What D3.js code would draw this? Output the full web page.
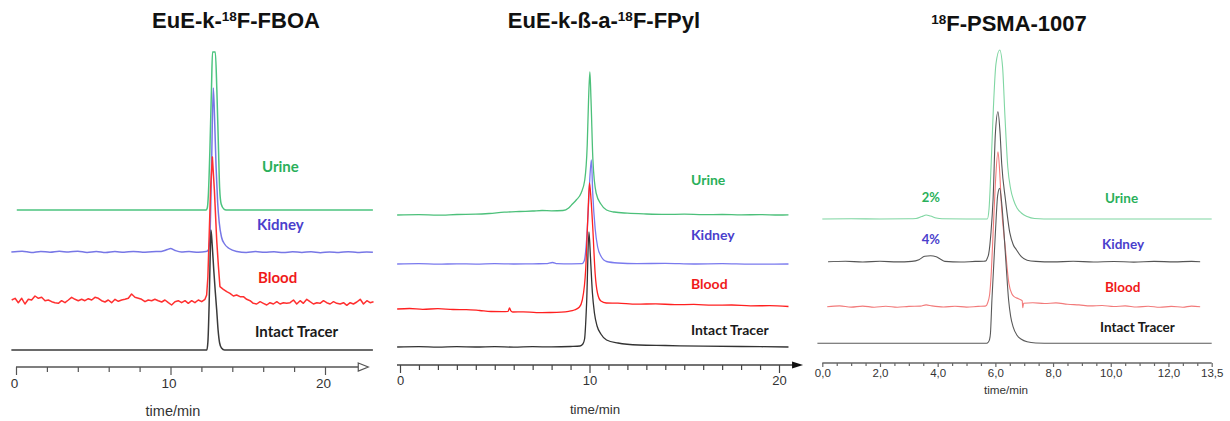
<!DOCTYPE html>
<html>
<head>
<meta charset="utf-8">
<script src="https://cdn.jsdelivr.net/npm/d3@7"></script>
<style>
  body { margin: 0; background: #fff; }
  svg { display: block; }
  .title { font-family: "Liberation Sans", Arial, sans-serif; font-weight: bold; fill: #111; }
  .trace-label { font-family: Lato, "Open Sans", sans-serif; font-weight: bold; }
  .axis text { font-family: "Liberation Sans", Arial, sans-serif; fill: #333; }
  .axis-title { font-family: "Liberation Sans", Arial, sans-serif; fill: #333; }
</style>
</head>
<body>
<svg id="chart" width="1230" height="421"></svg>
<script>
// trace names, top to bottom
const traceNames = ["Urine", "Kidney", "Blood", "Intact Tracer"];

// ---- EuE-k-18F-FBOA : [time/min, signal] ----
const fboaUrine = [[0.05,0],[12.3,0],[12.38,2],[12.45,15],[12.55,60],[12.65,120],[12.72,158],[12.9,158],[13.0,120],[13.1,65],[13.18,22],[13.28,6],[13.45,1],[13.6,0],[23.1,0]];
const fboaKidney = [[-0.3,0],[0.4,0.8],[1.0,-0.5],[1.6,0.6],[2.2,-0.3],[2.8,0.7],[3.4,0],[4.0,0.8],[4.6,-0.4],[5.2,0.5],[5.8,-0.6],[6.4,0.4],[7.0,-0.2],[7.6,0.6],[8.2,-0.3],[8.8,0.3],[9.4,0.6],[9.8,2.5],[10.0,3.5],[10.3,1.5],[10.7,0],[11.2,0.5],[11.8,-0.3],[12.3,0.4],[12.45,2],[12.55,15],[12.65,80],[12.77,164],[12.85,135],[12.95,85],[13.05,50],[13.15,30],[13.3,15],[13.5,8],[13.8,3.5],[14.3,0.5],[14.9,-0.5],[15.5,0.4],[16.1,-0.3],[16.7,0.2],[17.3,-0.6],[17.9,0.3],[18.5,-0.4],[19.1,0.2],[19.7,-0.7],[20.3,0],[20.9,-0.5],[21.5,0.3],[22.1,-0.4],[22.7,0.1],[23.1,-0.3]];
const fboaBlood = [[-0.28,2],[-0.06,3.7],[0.15,-0.7],[0.37,3.7],[0.58,-2],[0.8,2.7],[1.01,2],[1.23,6],[1.45,3.7],[1.66,4.7],[1.88,1.3],[2.09,2],[2.31,0.3],[2.52,-0.7],[2.74,-1.3],[2.95,1.3],[3.17,-0.7],[3.39,2],[3.6,4.7],[3.82,2.7],[4.03,1.3],[4.25,2.7],[4.46,1.3],[4.68,3.3],[4.9,2],[5.11,4.7],[5.33,3.7],[5.54,1.3],[5.76,0],[5.97,2],[6.19,-0.7],[6.41,2.7],[6.62,0.7],[6.84,2],[7.05,2.7],[7.27,3.7],[7.48,8],[7.7,4.7],[7.92,3.7],[8.13,2.7],[8.35,0.3],[8.56,2],[8.78,1.3],[8.99,2.7],[9.21,1.3],[9.43,0],[9.64,2],[9.86,-0.7],[10.07,-3],[10.29,0.3],[10.5,1.3],[10.72,-0.7],[10.94,1.3],[11.15,-1.3],[11.37,1.3],[11.58,-0.7],[11.8,2],[12.02,0.3],[12.23,2.7],
  [12.34,7],[12.42,25],[12.5,65],[12.6,115],[12.71,145],[12.84,112],[12.99,62],[13.1,36],[13.2,15.3],[13.42,12.7],[13.64,10.3],[13.85,8.7],[14.07,6],[14.28,7],[14.5,5.3],[14.72,5.3],[14.93,2.7],[15.15,1.3],[15.36,-1.3],[15.58,-2],[15.8,0.3],[16.01,-1.3],[16.23,-3],[16.44,-0.7],[16.66,-2],[16.88,0.3],[17.09,-2],[17.31,-0.7],[17.52,-1.3],[17.74,-0.7],[17.96,2],[18.17,-2],[18.39,1.3],[18.6,-1.3],[18.82,2.7],[19.03,0.3],[19.25,-2],[19.47,-0.7],[19.68,-1.3],[19.9,1.3],[20.11,-0.7],[20.33,-2],[20.55,0.3],[20.76,-1.3],[20.98,-2],[21.2,-0.7],[21.41,-3.3],[21.63,-0.7],[21.84,-2],[22.06,0],[22.28,2.7],[22.49,-2],[22.71,1.3],[22.92,-0.7],[23.14,0.3]];
const fboaIntact = [[-0.3,0],[12.35,0],[12.42,8],[12.5,45],[12.57,95],[12.62,120],[12.7,105],[12.8,80],[12.9,58],[12.99,40],[13.08,20],[13.18,7],[13.3,2],[13.5,0],[23.1,0]];
const fboaOffsets = [140, 98, 48, 0];
const fboaMajorTicks = [0, 10, 20];
const fboaMinorTicks = [2, 4, 6, 8, 12, 14, 16, 18];

// ---- EuE-k-ß-a-18F-FPyl ----
const fpylUrine = [[-0.15,0],[1,0.4],[2,-0.2],[3,0.5],[4,0.8],[4.7,1.5],[5.5,2.8],[6.3,3.5],[7,4],[7.5,4.5],[8,4.2],[8.6,4.5],[8.9,7],[9.1,11],[9.3,15],[9.56,22],[9.75,35],[9.88,70],[9.95,115],[10.02,143],[10.08,115],[10.18,55],[10.35,22],[10.6,11],[10.9,5],[11.3,3],[12,1.8],[13,1],[14,0.6],[15,0.8],[16,0.3],[17,0.5],[18,0.1],[19,0.4],[20,0],[20.5,0.2]];
const fpylKidney = [[-0.15,0],[1,0.3],[2,-0.2],[3,0.2],[4,-0.1],[5,0.3],[6,0],[7,0.2],[7.7,0.3],[8.05,1.5],[8.3,0.4],[9,0.2],[9.6,0.3],[9.72,3],[9.85,25],[9.95,60],[10.03,90],[10.1,104],[10.17,71],[10.3,35],[10.43,17],[10.6,8],[10.9,2.5],[11.5,1],[12.5,0.4],[14,0.6],[15.5,0],[17,0.3],[18.5,-0.2],[20.5,0]];
const fpylBlood = [[-0.15,0],[0.5,0.5],[1.2,-0.3],[2,0.3],[2.8,-0.5],[3.5,-0.6],[4.2,-1.5],[4.8,-2.5],[5.4,-2.6],[5.7,-2.4],[5.78,1],[5.85,-1.8],[5.95,-3],[6.5,-2.8],[7.2,-3.6],[7.9,-3.5],[8.5,-3.2],[8.9,-2.4],[9.2,-1],[9.47,2],[9.62,9],[9.8,40],[9.92,95],[10.0,126],[10.08,110],[10.17,82],[10.3,35],[10.42,16],[10.6,8],[10.88,6],[11.5,5.8],[12.5,4.8],[13.5,5.2],[14.5,4.3],[15.5,4.6],[16.5,3.8],[17.5,4],[18.5,3.2],[19.5,3.3],[20.5,2.5]];
const fpylIntact = [[-0.15,0],[1,0.4],[2,-0.2],[3,0.3],[4,0],[5,0.4],[6,-0.1],[7,0.3],[8,0.1],[9,0.5],[9.5,1],[9.65,3],[9.74,8],[9.85,45],[9.97,115],[10.05,90],[10.15,55],[10.26,34],[10.4,21],[10.6,13],[10.9,7],[11.5,4],[12.6,2],[14,1.5],[16,0.8],[18,0.5],[20.5,0]];
const fpylOffsets = [132, 83, 38, 0];
const fpylMajorTicks = [0, 10, 20];
const fpylMinorTicks = [1, 2, 3, 4, 5, 6, 7, 8, 9, 11, 12, 13, 14, 15, 16, 17, 18, 19];

// ---- 18F-PSMA-1007 ----
const psmaUrine = [[0,0],[1,0.2],[2,0],[3,0.2],[3.25,0.5],[3.45,2.5],[3.6,4],[3.75,3],[3.95,1],[4.15,0.2],[5,0],[5.72,0],[5.78,10],[5.85,52],[5.93,110],[6.02,155],[6.15,169],[6.25,152],[6.33,104],[6.43,52],[6.53,30],[6.63,19],[6.75,11],[6.9,6],[7.1,2.5],[7.36,0.5],[8,0],[13.5,0]];
const psmaKidney = [[0.2,0],[0.8,0.5],[1.4,-0.3],[2,0.4],[2.6,-0.2],[3.1,0.3],[3.35,2],[3.55,5.5],[3.75,6],[3.95,5],[4.1,2.5],[4.25,0.3],[4.8,-0.3],[5.3,0.3],[5.6,0.5],[5.68,1],[5.72,3.5],[5.77,8],[5.85,30],[5.92,62],[6.0,128],[6.09,150],[6.16,130],[6.22,98],[6.35,62],[6.5,29],[6.62,17],[6.73,12],[6.9,5],[7.1,1.5],[7.4,0.3],[8,-0.2],[8.7,0.4],[9.4,-0.3],[10.1,0.2],[10.8,-0.4],[11.5,0.3],[12.2,-0.2],[12.8,0.3],[13.1,0]];
const psmaBlood = [[0.17,0],[0.6,0.8],[1.0,-0.4],[1.4,0.6],[1.8,-0.5],[2.2,0.4],[2.6,-0.6],[3.0,0.3],[3.4,0.6],[3.6,1.8],[3.8,0.8],[4.2,-0.3],[4.6,0.5],[5.0,-0.4],[5.4,0.3],[5.65,0.6],[5.7,1.5],[5.72,3],[5.8,12],[5.86,35],[5.92,73],[6.0,123],[6.09,155],[6.15,135],[6.2,106],[6.35,57],[6.47,23],[6.57,13],[6.65,10],[6.8,8],[6.93,6],[6.95,-1],[6.98,3.5],[7.3,4],[7.7,3.2],[8.1,3.8],[8.5,2.5],[8.9,1.8],[9.3,0.8],[9.7,1.2],[10.1,0.2],[10.5,0.8],[10.9,-0.3],[11.3,0.5],[11.7,-0.6],[12.1,0.3],[12.5,-0.5],[12.8,0.6],[13.1,0]];
const psmaIntact = [[-0.17,0],[5.7,0],[5.75,1],[5.8,4],[5.83,10],[5.88,43],[6.0,110],[6.08,148],[6.15,155],[6.22,140],[6.3,110],[6.38,75],[6.46,43],[6.53,27],[6.61,17],[6.75,8],[6.9,4],[7.1,1.5],[7.4,0.3],[8,0],[13.5,0]];
const psmaOffsets = [124.3, 81.6, 36.6, 0];
const psmaMajorTicks = [0, 2, 4, 6, 8, 10, 12, 13.5];
const psmaMinorTicks = [0.5,1,1.5,2.5,3,3.5,4.5,5,5.5,6.5,7,7.5,8.5,9,9.5,10.5,11,11.5,12.5,13];
const psmaPercents = ["2%", "4%"];

const svg = d3.select("#chart");

const panels = [
  {
    titleParts: ["EuE-k-", "18", "F-FBOA"], titleX: 236, titleY: 28,
    traces: [fboaUrine, fboaKidney, fboaBlood, fboaIntact], offsets: fboaOffsets,
    xDomain: [0, 20], xRange: [16, 325], baseY: 350, axisY: 367,
    axisStart: 0, axisEnd: 22.8, arrow: "open",
    major: fboaMajorTicks, minor: fboaMinorTicks, majorLen: 8, minorLen: 5,
    fmt: d3.format("d"), tickFont: 13.5, tickDx: -2, axisColor: "#555",
    colors: ["#4cc47f", "#7777e6", "#ff3030", "#3a3a3a"], width: 1.5,
    curves: [d3.curveMonotoneX, d3.curveMonotoneX, d3.curveLinear, d3.curveMonotoneX],
    labelFont: 15, labels: [[262, 172], [257, 230], [258, 283], [255, 337]],
    axisTitle: [173, 416, 14.5]
  },
  {
    titleParts: ["EuE-k-ß-a-", "18", "F-FPyl"], titleX: 604, titleY: 27.5,
    traces: [fpylUrine, fpylKidney, fpylBlood, fpylIntact], offsets: fpylOffsets,
    xDomain: [0, 20], xRange: [400, 779], baseY: 347, axisY: 365,
    axisStart: -0.16, axisEnd: 21.27, arrow: "filled",
    major: fpylMajorTicks, minor: fpylMinorTicks, majorLen: 8, minorLen: 5,
    fmt: d3.format("d"), tickFont: 13, tickDx: 0, axisColor: "#444",
    colors: ["#4cc07a", "#7a7aee", "#ff2020", "#333333"], width: 1.3,
    curves: [d3.curveMonotoneX, d3.curveMonotoneX, d3.curveMonotoneX, d3.curveMonotoneX],
    labelFont: 14, labels: [[691, 185], [691, 240], [691, 289], [691, 335]],
    axisTitle: [595, 414, 13.3]
  },
  {
    titleParts: ["", "18", "F-PSMA-1007"], titleX: 1009, titleY: 30.5,
    traces: [psmaUrine, psmaKidney, psmaBlood, psmaIntact], offsets: psmaOffsets,
    xDomain: [0, 13.5], xRange: [822.3, 1211.7], baseY: 343.3, axisY: 363,
    axisStart: 0, axisEnd: 13.5, arrow: "none",
    major: psmaMajorTicks, minor: psmaMinorTicks, majorLen: 4, minorLen: 3,
    fmt: d => d3.format(".1f")(d).replace(".", ","), tickFont: 11.5, tickDx: 0, axisColor: "#666",
    colors: ["#7fd6a2", "#555555", "#f27a7a", "#5a5a5a"], width: 1.1,
    curves: [d3.curveMonotoneX, d3.curveMonotoneX, d3.curveMonotoneX, d3.curveMonotoneX],
    labelFont: 13.5, labels: [[1105, 202.7], [1102, 249], [1105, 291.7], [1100, 331.7]],
    percents: psmaPercents, percentPos: [[921.7, 201.7], [921.7, 244]],
    axisTitle: [1006, 394, 11.7]
  }
];

const labelColors = ["#2ab05a", "#4a40cc", "#f01a1a", "#1a1a1a"];

panels.forEach(p => {
  const x = d3.scaleLinear().domain(p.xDomain).range(p.xRange);
  const y = d3.scaleLinear().domain([0, 300]).range([p.baseY, p.baseY - 300]);
  const g = svg.append("g");

  // title with superscript
  const t = g.append("text").attr("class", "title")
    .attr("x", p.titleX).attr("y", p.titleY)
    .attr("text-anchor", "middle").style("font-size", "22px");
  if (p.titleParts[0]) t.append("tspan").text(p.titleParts[0]);
  t.append("tspan").text(p.titleParts[1]).attr("dy", -7).style("font-size", "13.5px");
  t.append("tspan").text(p.titleParts[2]).attr("dy", 7);

  // traces
  p.traces.forEach((tr, i) => {
    const off = p.offsets[i];
    const line = d3.line()
      .x(d => x(d[0]))
      .y(d => y(d[1] + off))
      .curve(p.curves[i]);
    g.append("path")
      .datum(tr)
      .attr("d", line)
      .attr("fill", "none")
      .attr("stroke", p.colors[i])
      .attr("stroke-width", p.width)
      .attr("stroke-linejoin", "round");
  });

  // trace labels
  traceNames.forEach((name, i) => {
    g.append("text").attr("class", "trace-label")
      .attr("x", p.labels[i][0]).attr("y", p.labels[i][1])
      .style("font-size", p.labelFont + "px")
      .attr("fill", labelColors[i])
      .text(name);
  });
  if (p.percents) {
    p.percents.forEach((s, i) => {
      g.append("text").attr("class", "trace-label")
        .attr("x", p.percentPos[i][0]).attr("y", p.percentPos[i][1])
        .style("font-size", "13px")
        .attr("fill", labelColors[i])
        .text(s);
    });
  }

  // time axis
  const axisG = g.append("g").attr("class", "axis").attr("transform", `translate(0,${p.axisY})`);
  axisG.append("g").call(d3.axisBottom(x).tickValues(p.minor).tickSize(p.minorLen).tickFormat(""));
  axisG.append("g").call(d3.axisBottom(x).tickValues(p.major).tickSize(p.majorLen).tickPadding(p.arrow === "none" ? 2 : 3).tickFormat(p.fmt));
  axisG.selectAll(".domain").remove();
  axisG.selectAll(".tick line").attr("stroke", p.axisColor).attr("stroke-width", 1.2);
  axisG.selectAll(".tick text").style("font-size", p.tickFont + "px").attr("dx", p.tickDx);

  const tip = x(p.axisEnd);
  const lineEnd = p.arrow === "none" ? tip : tip - 10;
  axisG.append("line")
    .attr("x1", x(p.axisStart)).attr("x2", lineEnd)
    .attr("stroke", p.axisColor).attr("stroke-width", 1.3);
  if (p.arrow === "open") {
    axisG.append("path")
      .attr("d", `M${tip - 10},-4L${tip},0L${tip - 10},4Z`)
      .attr("fill", "#fff").attr("stroke", p.axisColor).attr("stroke-width", 1.2);
  } else if (p.arrow === "filled") {
    axisG.append("path")
      .attr("d", `M${tip - 11},-3.5L${tip},0L${tip - 11},3.5Z`)
      .attr("fill", "#111");
  }

  g.append("text").attr("class", "axis-title")
    .attr("x", p.axisTitle[0]).attr("y", p.axisTitle[1])
    .attr("text-anchor", "middle")
    .style("font-size", p.axisTitle[2] + "px")
    .text("time/min");
});
</script>
</body>
</html>
